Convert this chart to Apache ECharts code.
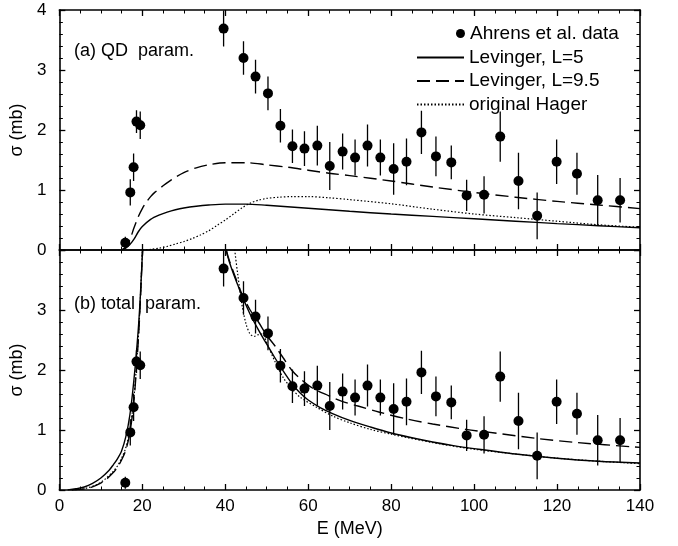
<!DOCTYPE html>
<html>
<head>
<meta charset="utf-8">
<script src="https://cdn.jsdelivr.net/npm/echarts@6/dist/echarts.min.js"></script>
<style>
html,body{margin:0;padding:0;background:#fff;}
#chart{width:678px;height:546px;}
</style>
</head>
<body>
<div id="chart"></div>
<script>
// ---- Data ----
const energy = [15.9,17.1,17.9,18.6,19.5,39.6,44.4,47.3,50.3,53.3,56.2,59.1,62.2,65.2,68.3,71.3,74.3,77.4,80.6,83.7,87.3,90.8,94.5,98.2,102.4,106.3,110.7,115.2,119.9,124.8,129.8,135.2];
const sigma = [0.12,0.96,1.38,2.14,2.08,3.69,3.20,2.89,2.61,2.07,1.73,1.69,1.74,1.40,1.64,1.54,1.74,1.54,1.35,1.47,1.96,1.56,1.46,0.91,0.92,1.89,1.15,0.57,1.47,1.27,0.83,0.83];
const sigmaErr = [0.10,0.22,0.23,0.19,0.23,0.30,0.28,0.28,0.28,0.28,0.28,0.29,0.33,0.40,0.30,0.30,0.35,0.30,0.43,0.39,0.36,0.33,0.28,0.26,0.31,0.42,0.47,0.39,0.37,0.35,0.42,0.37];

// (a) QD parametrisation curves
const levL5QD = [[15,0],[16,0.03],[17,0.09],[18,0.18],[19,0.3],[20,0.39],[22,0.51],[24,0.58],[26,0.63],[28,0.67],[30,0.7],[33,0.73],[36,0.75],[40,0.765],[45,0.765],[50,0.745],[55,0.72],[60,0.695],[65,0.67],[70,0.645],[80,0.6],[90,0.56],[100,0.52],[110,0.48],[120,0.44],[130,0.405],[140,0.37]];
const levL95QD = [[15,0],[16,0.05],[17,0.17],[18,0.37],[19,0.55],[20,0.69],[21,0.8],[22,0.89],[23,0.96],[25,1.07],[27,1.17],[30,1.29],[33,1.37],[36,1.42],[40,1.455],[45,1.455],[50,1.42],[55,1.38],[60,1.33],[65,1.28],[70,1.24],[80,1.15],[90,1.05],[100,0.96],[110,0.88],[120,0.81],[130,0.75],[140,0.69]];
const hagerQD = [[20,0],[22,0.01],[24,0.03],[26,0.06],[28,0.1],[30,0.14],[32,0.19],[34,0.25],[36,0.32],[38,0.41],[40,0.5],[42,0.6],[44,0.7],[46,0.78],[48,0.83],[50,0.86],[53,0.88],[56,0.89],[60,0.89],[65,0.87],[70,0.84],[80,0.77],[90,0.68],[100,0.6],[110,0.54],[120,0.48],[130,0.42],[140,0.38]];

// (b) total parametrisation curves ('-' = curve leaves the frame)
const levL5Tot = [[2,0],[4,0.02],[6,0.05],[8,0.11],[10,0.2],[12,0.33],[13,0.42],[14,0.52],[15,0.65],[16,0.88],[17,1.25],[18,1.85],[19,2.65],[19.5,3.2],[20,3.9],[20.3,4.3],[30,'-'],[39.8,4.3],[40.2,4.0],[41,3.8],[42,3.6],[43,3.42],[44,3.24],[46,2.93],[48,2.67],[50,2.43],[52,2.2],[54,1.98],[56,1.78],[58,1.62],[60,1.5],[63,1.37],[66,1.27],[70,1.16],[75,1.05],[80,0.95],[85,0.87],[90,0.8],[95,0.74],[100,0.69],[110,0.6],[120,0.53],[130,0.48],[140,0.45]];
const levL95Tot = [[3,0],[5,0.01],[7,0.03],[9,0.08],[11,0.16],[13,0.29],[14,0.38],[15,0.5],[16,0.66],[17,0.95],[18,1.5],[19,2.45],[19.5,3.1],[20,3.9],[20.3,4.3],[30,'-'],[39.8,4.3],[40.3,4.0],[41,3.82],[42,3.63],[44,3.27],[46,3.0],[48,2.8],[50,2.58],[52,2.4],[54,2.2],[56,2.0],[58,1.86],[61,1.7],[65,1.57],[68,1.48],[72,1.4],[77,1.3],[84,1.18],[90,1.1],[98,1.01],[105,0.95],[115,0.86],[125,0.79],[140,0.71]];
const hagerTot = [[3,0],[5,0.01],[7,0.04],[9,0.09],[11,0.18],[13,0.31],[14,0.4],[15,0.53],[16,0.7],[17,1.0],[18,1.55],[19,2.5],[19.5,3.15],[20,3.95],[20.3,4.3],[30,'-'],[42,4.3],[42.3,4.0],[43,3.6],[44,3.1],[45,2.77],[46,2.6],[47,2.56],[48,2.59],[49,2.6],[50,2.45],[52,2.14],[54,1.87],[56,1.69],[58,1.55],[62,1.38],[66,1.23],[70,1.12],[75,1.01],[80,0.93],[90,0.79],[100,0.68],[110,0.6],[120,0.53],[130,0.48],[140,0.44]];

const xTicks = {min:0, max:140, interval:20};
const yTicks = {min:0, max:4, interval:1};

// ---- Chart ----
const FONT = '"Liberation Sans", Arial, Helvetica, sans-serif';
const chart = echarts.init(document.getElementById('chart'), null, {renderer:'canvas'});

const pts = energy.map((e,i)=>[e, sigma[i]]);
const errPts = energy.map((e,i)=>[e, sigma[i], sigmaErr[i]]);

function errRender(params, api){
  const x = api.value(0), y = api.value(1), e = api.value(2);
  const a = api.coord([x, y+e]);
  const b = api.coord([x, y-e]);
  const cs = params.coordSys;
  return {
    type:'group',
    clipPath:{type:'rect', shape:{x:cs.x, y:cs.y, width:cs.width, height:cs.height}},
    children:[{type:'line', shape:{x1:a[0],y1:a[1],x2:b[0],y2:b[1]}, style:{stroke:'#000', lineWidth:1.3}}]
  };
}

const axisLine = {show:true, onZero:false, lineStyle:{color:'#000', width:1.6}};
function xAx(grid, pos, labels){
  return {
    type:'value', gridIndex:grid, position:pos, min:xTicks.min, max:xTicks.max, interval:xTicks.interval,
    axisLine:axisLine,
    axisTick:{show:true, inside:true, length:6, lineStyle:{color:'#000', width:1.3}},
    minorTick:{show:true, splitNumber:4, length:3.5, lineStyle:{color:'#000', width:1}},
    splitLine:{show:false}, minorSplitLine:{show:false},
    axisLabel:{show:labels, color:'#000', fontSize:17, fontFamily:FONT, margin:8},
    name: labels ? 'E (MeV)' : '', nameLocation:'middle', nameGap:30,
    nameTextStyle:{color:'#000', fontSize:18, fontFamily:FONT}
  };
}
function yAx(grid, pos, labels, showMax){
  return {
    type:'value', gridIndex:grid, position:pos, min:yTicks.min, max:yTicks.max, interval:yTicks.interval,
    axisLine:axisLine,
    axisTick:{show:true, inside:true, length:6, lineStyle:{color:'#000', width:1.3}},
    minorTick:{show:true, splitNumber:5, length:3.5, lineStyle:{color:'#000', width:1}},
    splitLine:{show:false}, minorSplitLine:{show:false},
    axisLabel:{show:labels, color:'#000', fontSize:17, fontFamily:FONT, margin:13, showMaxLabel:showMax},
    name: labels ? 'σ (mb)' : '', nameLocation:'middle', nameGap:23,
    nameTextStyle:{color:'#000', fontSize:18, fontFamily:FONT}
  };
}

const solid = {color:'#000', width:1.4, type:'solid'};
const dashed = {color:'#000', width:1.4, type:[13,6]};
const dotted = {color:'#000', width:1.2, type:[1.5,2]};

function lineS(name, data, style, xi, yi){
  return {name, type:'line', data, xAxisIndex:xi, yAxisIndex:yi, showSymbol:false, symbol:'none',
    smooth:0.3, lineStyle:style, itemStyle:{color:'#000'}, clip:true, z:2, animation:false};
}

const option = {
  animation:false,
  backgroundColor:'#fff',
  grid:[
    {left:58, top:10, width:582, height:240},
    {left:58, top:250, width:582, height:240}
  ],
  xAxis:[ xAx(0,'bottom',false), xAx(0,'top',false), xAx(1,'bottom',true), xAx(1,'top',false) ],
  yAxis:[ yAx(0,'left',true,true), yAx(0,'right',false,true), yAx(1,'left',true,false), yAx(1,'right',false,false) ],
  legend:[
    {data:['Ahrens et al. data'], orient:'vertical', left:451, top:19, itemWidth:9, itemHeight:9, itemGap:5,
     itemStyle:{opacity:1},
     textStyle:{color:'#000', fontSize:19, fontFamily:FONT}},
    {data:['Levinger, L=5','Levinger, L=9.5','original Hager'], orient:'vertical', left:411, top:43, itemWidth:47, itemHeight:14, itemGap:4.5,
     itemStyle:{opacity:0, borderWidth:0},
     textStyle:{color:'#000', fontSize:19, fontFamily:FONT}}
  ],
  graphic:[
    {type:'text', left:74, top:42, style:{text:'(a) QD  param.', fill:'#000', font:'18px ' + FONT}},
    {type:'text', left:74, top:295, style:{text:'(b) total  param.', fill:'#000', font:'18px ' + FONT}}
  ],
  series:[
    lineS('Levinger, L=5', levL5QD, solid, 0, 0),
    lineS('Levinger, L=9.5', levL95QD, dashed, 0, 0),
    lineS('original Hager', hagerQD, dotted, 0, 0),
    lineS('Levinger, L=5', levL5Tot, solid, 2, 2),
    lineS('Levinger, L=9.5', levL95Tot, dashed, 2, 2),
    lineS('original Hager', hagerTot, dotted, 2, 2),
    {name:'errA', type:'custom', xAxisIndex:0, yAxisIndex:0, data:errPts, renderItem:errRender, encode:{x:0,y:1}, z:3, silent:true},
    {name:'errB', type:'custom', xAxisIndex:2, yAxisIndex:2, data:errPts, renderItem:errRender, encode:{x:0,y:1}, z:3, silent:true},
    {name:'Ahrens et al. data', type:'scatter', xAxisIndex:0, yAxisIndex:0, data:pts, symbol:'circle', symbolSize:10, itemStyle:{color:'#000', opacity:1}, z:4},
    {name:'Ahrens et al. data', type:'scatter', xAxisIndex:2, yAxisIndex:2, data:pts, symbol:'circle', symbolSize:10, itemStyle:{color:'#000', opacity:1}, z:4}
  ]
};
chart.setOption(option);
</script>
</body>
</html>
